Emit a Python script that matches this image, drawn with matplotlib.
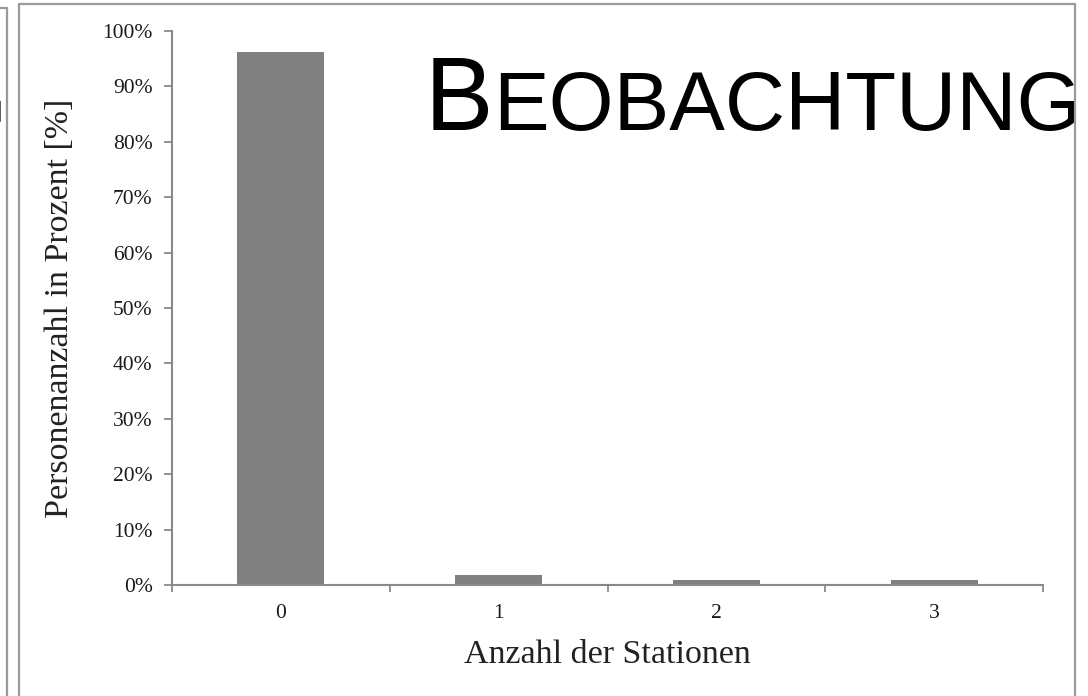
import numpy as np
import matplotlib
matplotlib.use('Agg')
import matplotlib.pyplot as plt
from matplotlib.lines import Line2D
from matplotlib.ticker import FixedLocator, PercentFormatter

# data
stations = ['0', '1', '2', '3']
share = [0.962, 0.018, 0.009, 0.009]
y_ticks = np.arange(0, 1.01, 0.1)

W, H = 1088, 696
fig = plt.figure(figsize=(W / 100, H / 100), dpi=100)
ax = fig.add_axes([172 / W, 1 - 585 / H, (1043 - 172) / W, (585 - 31) / H])

x = np.arange(len(stations))
ax.bar(x, share, width=0.4, color='#808080', zorder=2)

ax.set_xlim(-0.5, 3.5)
ax.set_ylim(0, 1)
for s in ['top', 'right']:
    ax.spines[s].set_visible(False)
for s in ['left', 'bottom']:
    ax.spines[s].set_color('#8a8a8a')
    ax.spines[s].set_linewidth(1.5)

serif = ['Liberation Serif', 'DejaVu Serif']
ax.set_yticks(y_ticks)
ax.yaxis.set_major_formatter(PercentFormatter(1.0, decimals=0))
ax.tick_params(axis='y', direction='out', length=6, width=1.3, color='#8a8a8a',
               pad=8, labelsize=15.5, labelcolor='#1a1a1a')
for lab in ax.get_yticklabels():
    lab.set_family(serif)

ax.set_xticks(x)
ax.set_xticklabels(stations, family=serif)
ax.tick_params(axis='x', which='major', length=0, pad=14, labelsize=15.5, labelcolor='#1a1a1a')
ax.xaxis.set_minor_locator(FixedLocator(np.arange(-0.5, 3.6, 1)))
ax.tick_params(axis='x', which='minor', direction='out', length=5, width=1.3, color='#8a8a8a')

ax.set_ylabel('Personenanzahl in Prozent [%]', fontsize=24.5, family=serif, color='#222222')
ax.yaxis.set_label_coords(-0.111, 0.5)
ax.set_xlabel('Anzahl der Stationen', fontsize=24.5, family=serif, color='#222222')
ax.xaxis.set_label_coords(0.5, -0.099)

# slide frames
frame_c = '#9a9a9a'
def px_line(xs, ys, lw=1.6):
    fig.add_artist(Line2D([v / W for v in xs], [1 - v / H for v in ys],
                          transform=fig.transFigure, color=frame_c, lw=lw, zorder=5))
px_line([19, 19, 1075, 1075], [H + 5, 4, 4, H + 5])
px_line([0, 7, 7], [8, 8, H + 5])

# title in small caps style
sans = ['Liberation Sans', 'DejaVu Sans']
base = 1 - 130 / H
t1 = fig.text(425 / W, base, 'B', fontsize=74, family=sans, va='baseline', color='black')
fig.text(7 / W, base, 'G', fontsize=60, family=sans, va='baseline', ha='right', color='black')
fig.canvas.draw()
bb = t1.get_window_extent()
fig.text(bb.x1 / W, base, 'EOBACHTUNG', fontsize=60, family=sans, va='baseline', color='black')

fig.savefig('out.png', dpi=100)
